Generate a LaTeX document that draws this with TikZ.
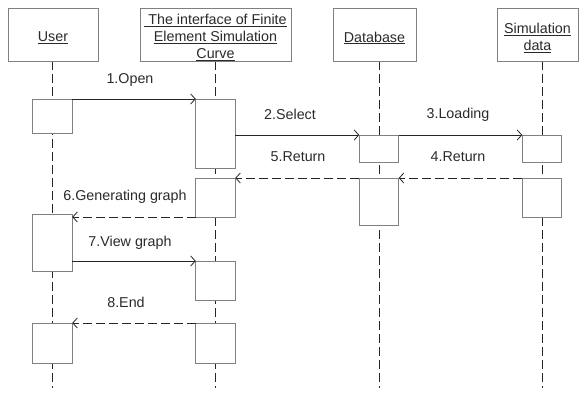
\documentclass[tikz,border=0pt]{standalone}
\usepackage{fontspec}
\setmainfont{Liberation Sans}
\usetikzlibrary{arrows.meta,backgrounds}
\definecolor{boxgray}{HTML}{808080}
\definecolor{txt}{HTML}{2A2A2A}
\tikzset{
  head/.style={draw=boxgray, line width=0.8pt, fill=white, inner sep=0pt, outer sep=0pt, minimum height=53pt},
  headtext/.style={inner sep=0pt, align=center, text=txt, font=\fontsize{14.3pt}{18pt}\selectfont},
  act/.style={draw=boxgray, line width=0.8pt, fill=white, inner sep=0pt, outer sep=0pt, minimum width=39.5pt},
  life/.style={draw=black!85, line width=0.8pt, dash pattern=on 9pt off 4pt},
  msg/.style={draw=black!85, line width=0.8pt, -{Straight Barb[length=4.5pt,width=10pt,line width=0.8pt]}},
  ret/.style={msg, dash pattern=on 9pt off 4pt},
  lbl/.style={text=txt, inner sep=0pt, font=\fontsize{14.3pt}{18pt}\selectfont}
}
\begin{document}
\begin{tikzpicture}[x=1pt,y=-1pt]
\useasboundingbox (0,0) rectangle (584,395);
% heads
\node[head, minimum width=90pt] (U) at (53,34.5) {};
\node[head, minimum width=151pt] (I) at (215.5,34.5) {};
\node[head, minimum width=83pt] (DB) at (374.5,34.5) {};
\node[head, minimum width=81pt] (S) at (537.5,34.5) {};
\node[headtext] (Ut) at (53,38) {\underline{User}};
\node[headtext] (It) at (215.5,37.5) {\underline{\ The interface of Finite}\\[-1pt]\underline{Element Simulation}\\[-1pt]\underline{Curve}};
\node[headtext] (DBt) at (374.5,38) {\underline{Database}};
\node[headtext] (St) at (537.5,38) {\underline{Simulation}\\[-1pt]\underline{data}};
% activations
\node[act, minimum height=34pt] (A1) at (52.5,116) {};
\node[act, minimum height=57pt] (A2) at (52.5,242.5) {};
\node[act, minimum height=40pt] (A3) at (52.5,343) {};
\node[act, minimum height=69pt] (B1) at (215.5,133.5) {};
\node[act, minimum height=39pt] (B2) at (215.5,197.5) {};
\node[act, minimum height=39pt] (B3) at (215.5,280.5) {};
\node[act, minimum height=40pt] (B4) at (215.5,343) {};
\node[act, minimum height=27pt] (C1) at (379,148.5) {};
\node[act, minimum height=47pt] (C2) at (379,201.5) {};
\node[act, minimum height=27pt] (D1) at (542,148.5) {};
\node[act, minimum height=39pt] (D2) at (542,197.5) {};
% lifeline ends
\coordinate (Ue) at (52.5,388);
\coordinate (Ie) at (215.5,388);
\coordinate (De) at (379,388);
\coordinate (Se) at (542,388);
\begin{pgfonlayer}{background}
\draw[life] (A1 |- U.south) -- (Ue);
\draw[life] (B1 |- I.south) -- (Ie);
\draw[life] (C1 |- DB.south) -- (De);
\draw[life] (D1 |- S.south) -- (Se);
\end{pgfonlayer}
% messages
\draw[msg] (A1.north east) -- (B1.north west);
\draw[msg] (B1.east |- C1.north) -- (C1.north west);
\draw[msg] (C1.north east) -- (D1.north west);
\draw[ret] (D2.north west) -- (C2.north east);
\draw[ret] (C2.north west) -- (B2.north east);
\draw[ret] (B2.south west) -- (A2.east |- B2.south);
\draw[msg] (A2.east |- B3.north) -- (B3.north west);
\draw[ret] (B4.north west) -- (A3.north east);
% labels
\node[lbl] (l1) at (130,80) {1.Open};
\node[lbl] (l2) at (290,114) {2.Select};
\node[lbl] (l3) at (458,115) {3.Loading};
\node[lbl] (l4) at (458,157) {4.Return};
\node[lbl] (l5) at (298,157) {5.Return};
\node[lbl] (l6) at (125,197) {6.Generating graph};
\node[lbl] (l7) at (130,243) {7.View graph};
\node[lbl] (l8) at (126,302) {8.End};
\end{tikzpicture}
\end{document}
